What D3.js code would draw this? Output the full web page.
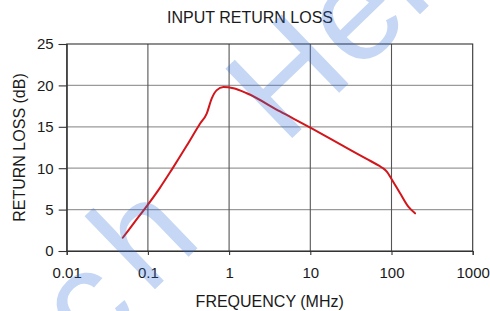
<!DOCTYPE html>
<html>
<head>
<meta charset="utf-8">
<script src="https://cdn.jsdelivr.net/npm/d3@7"></script>
<style>
  html, body { margin: 0; padding: 0; background: #fff; }
  svg { display: block; font-family: "Liberation Sans", Arial, sans-serif; }
</style>
</head>
<body>
<div id="vis"></div>
<script>
// frequency (MHz) and return loss (dB)
var freq = [0.049, 0.07, 0.1, 0.14, 0.196, 0.3, 0.44, 0.53, 0.61, 0.7, 0.85, 1.13, 1.65, 4.24, 10, 28, 50, 70, 80, 88, 100, 127, 161, 195];
var returnLoss = [1.6, 3.6, 5.6, 7.6, 9.8, 12.7, 15.4, 16.6, 18.4, 19.4, 19.8, 19.65, 19.05, 16.85, 14.9, 12.45, 11.1, 10.3, 9.95, 9.55, 8.7, 7.0, 5.35, 4.55];

var xTicks = [0.01, 0.1, 1, 10, 100, 1000];
var xTickLabels = ['0.01', '0.1', '1', '10', '100', '1000'];
var yTicks = [0, 5, 10, 15, 20, 25];

var watermarkGlyphs = ['c', 'h', 'H', 'e', 'r'];

var width = 490, height = 311;
var margin = { left: 66.7, right: 17.3, top: 44, bottom: 60 };

var svg = d3.select('#vis').append('svg')
  .attr('width', width)
  .attr('height', height);

var x = d3.scaleLog()
  .domain([0.01, 1000])
  .range([margin.left, width - margin.right]);

var y = d3.scaleLinear()
  .domain([0, 25])
  .range([height - margin.bottom, margin.top]);

// horizontal grid (lighter)
svg.append('g')
  .selectAll('line')
  .data(yTicks.slice(1, -1))
  .enter().append('line')
  .attr('x1', x(0.01)).attr('x2', x(1000))
  .attr('y1', function (d) { return y(d); })
  .attr('y2', function (d) { return y(d); })
  .attr('stroke', '#9a9a9a')
  .attr('stroke-width', 1.3);

// vertical grid (darker)
svg.append('g')
  .selectAll('line')
  .data(xTicks.slice(1, -1))
  .enter().append('line')
  .attr('x1', function (d) { return x(d); })
  .attr('x2', function (d) { return x(d); })
  .attr('y1', y(0)).attr('y2', y(25))
  .attr('stroke', '#555')
  .attr('stroke-width', 1.1);

// frame
svg.append('rect')
  .attr('x', x(0.01)).attr('y', y(25))
  .attr('width', x(1000) - x(0.01))
  .attr('height', y(0) - y(25))
  .attr('fill', 'none')
  .attr('stroke', '#333')
  .attr('stroke-width', 1.1);

// axes
var xAxis = svg.append('g')
  .attr('transform', 'translate(0,' + y(0) + ')')
  .call(d3.axisBottom(x)
    .tickValues(xTicks)
    .tickFormat(function (d, i) { return xTickLabels[i]; })
    .tickSize(4)
    .tickPadding(12));

var yAxis = svg.append('g')
  .attr('transform', 'translate(' + x(0.01) + ',0)')
  .call(d3.axisLeft(y)
    .tickValues(yTicks)
    .tickSize(8)
    .tickPadding(5));

[xAxis, yAxis].forEach(function (a) {
  a.select('.domain').attr('stroke', '#333').attr('stroke-width', 1.1);
  a.selectAll('.tick line').attr('stroke', '#333').attr('stroke-width', 1.1);
  a.selectAll('.tick text')
    .attr('fill', '#1a1a1a')
    .style('font-size', '15px')
    .style('font-family', '"Liberation Sans", Arial, sans-serif');
});

// curve
var line = d3.line()
  .x(function (d, i) { return x(freq[i]); })
  .y(function (d) { return y(d); })
  .curve(d3.curveMonotoneX);

svg.append('path')
  .datum(returnLoss)
  .attr('d', line)
  .attr('fill', 'none')
  .attr('stroke', '#d2161b')
  .attr('stroke-width', 2)
  .attr('stroke-linejoin', 'round')
  .attr('stroke-linecap', 'round');

// titles
svg.append('text')
  .attr('x', 250).attr('y', 22.7)
  .attr('text-anchor', 'middle')
  .attr('fill', '#1a1a1a')
  .style('font-size', '16px')
  .text('INPUT RETURN LOSS');

svg.append('text')
  .attr('x', (x(0.01) + x(1000)) / 2).attr('y', 306.5)
  .attr('text-anchor', 'middle')
  .attr('fill', '#1a1a1a')
  .style('font-size', '16px')
  .text('FREQUENCY (MHz)');

svg.append('text')
  .attr('transform', 'translate(25,' + (y(0) + y(25)) / 2 + ') rotate(-90)')
  .attr('text-anchor', 'middle')
  .attr('fill', '#1a1a1a')
  .style('font-size', '16px')
  .text('RETURN LOSS (dB)');

// faint watermark laid over the chart (cut by the edges, as in the source)
var glyphPos = [[92, 362], [148, 296], [284, 146], [357, 75], [413, 21]];
svg.append('g')
  .attr('opacity', 0.28)
  .selectAll('text')
  .data(watermarkGlyphs)
  .enter().append('text')
  .attr('transform', function (d, i) { return 'translate(' + glyphPos[i][0] + ',' + glyphPos[i][1] + ') rotate(-44)'; })
  .attr('fill', '#2f6fd6')
  .style('font-size', '140px')
  .text(function (d) { return d; });
</script>
</body>
</html>
